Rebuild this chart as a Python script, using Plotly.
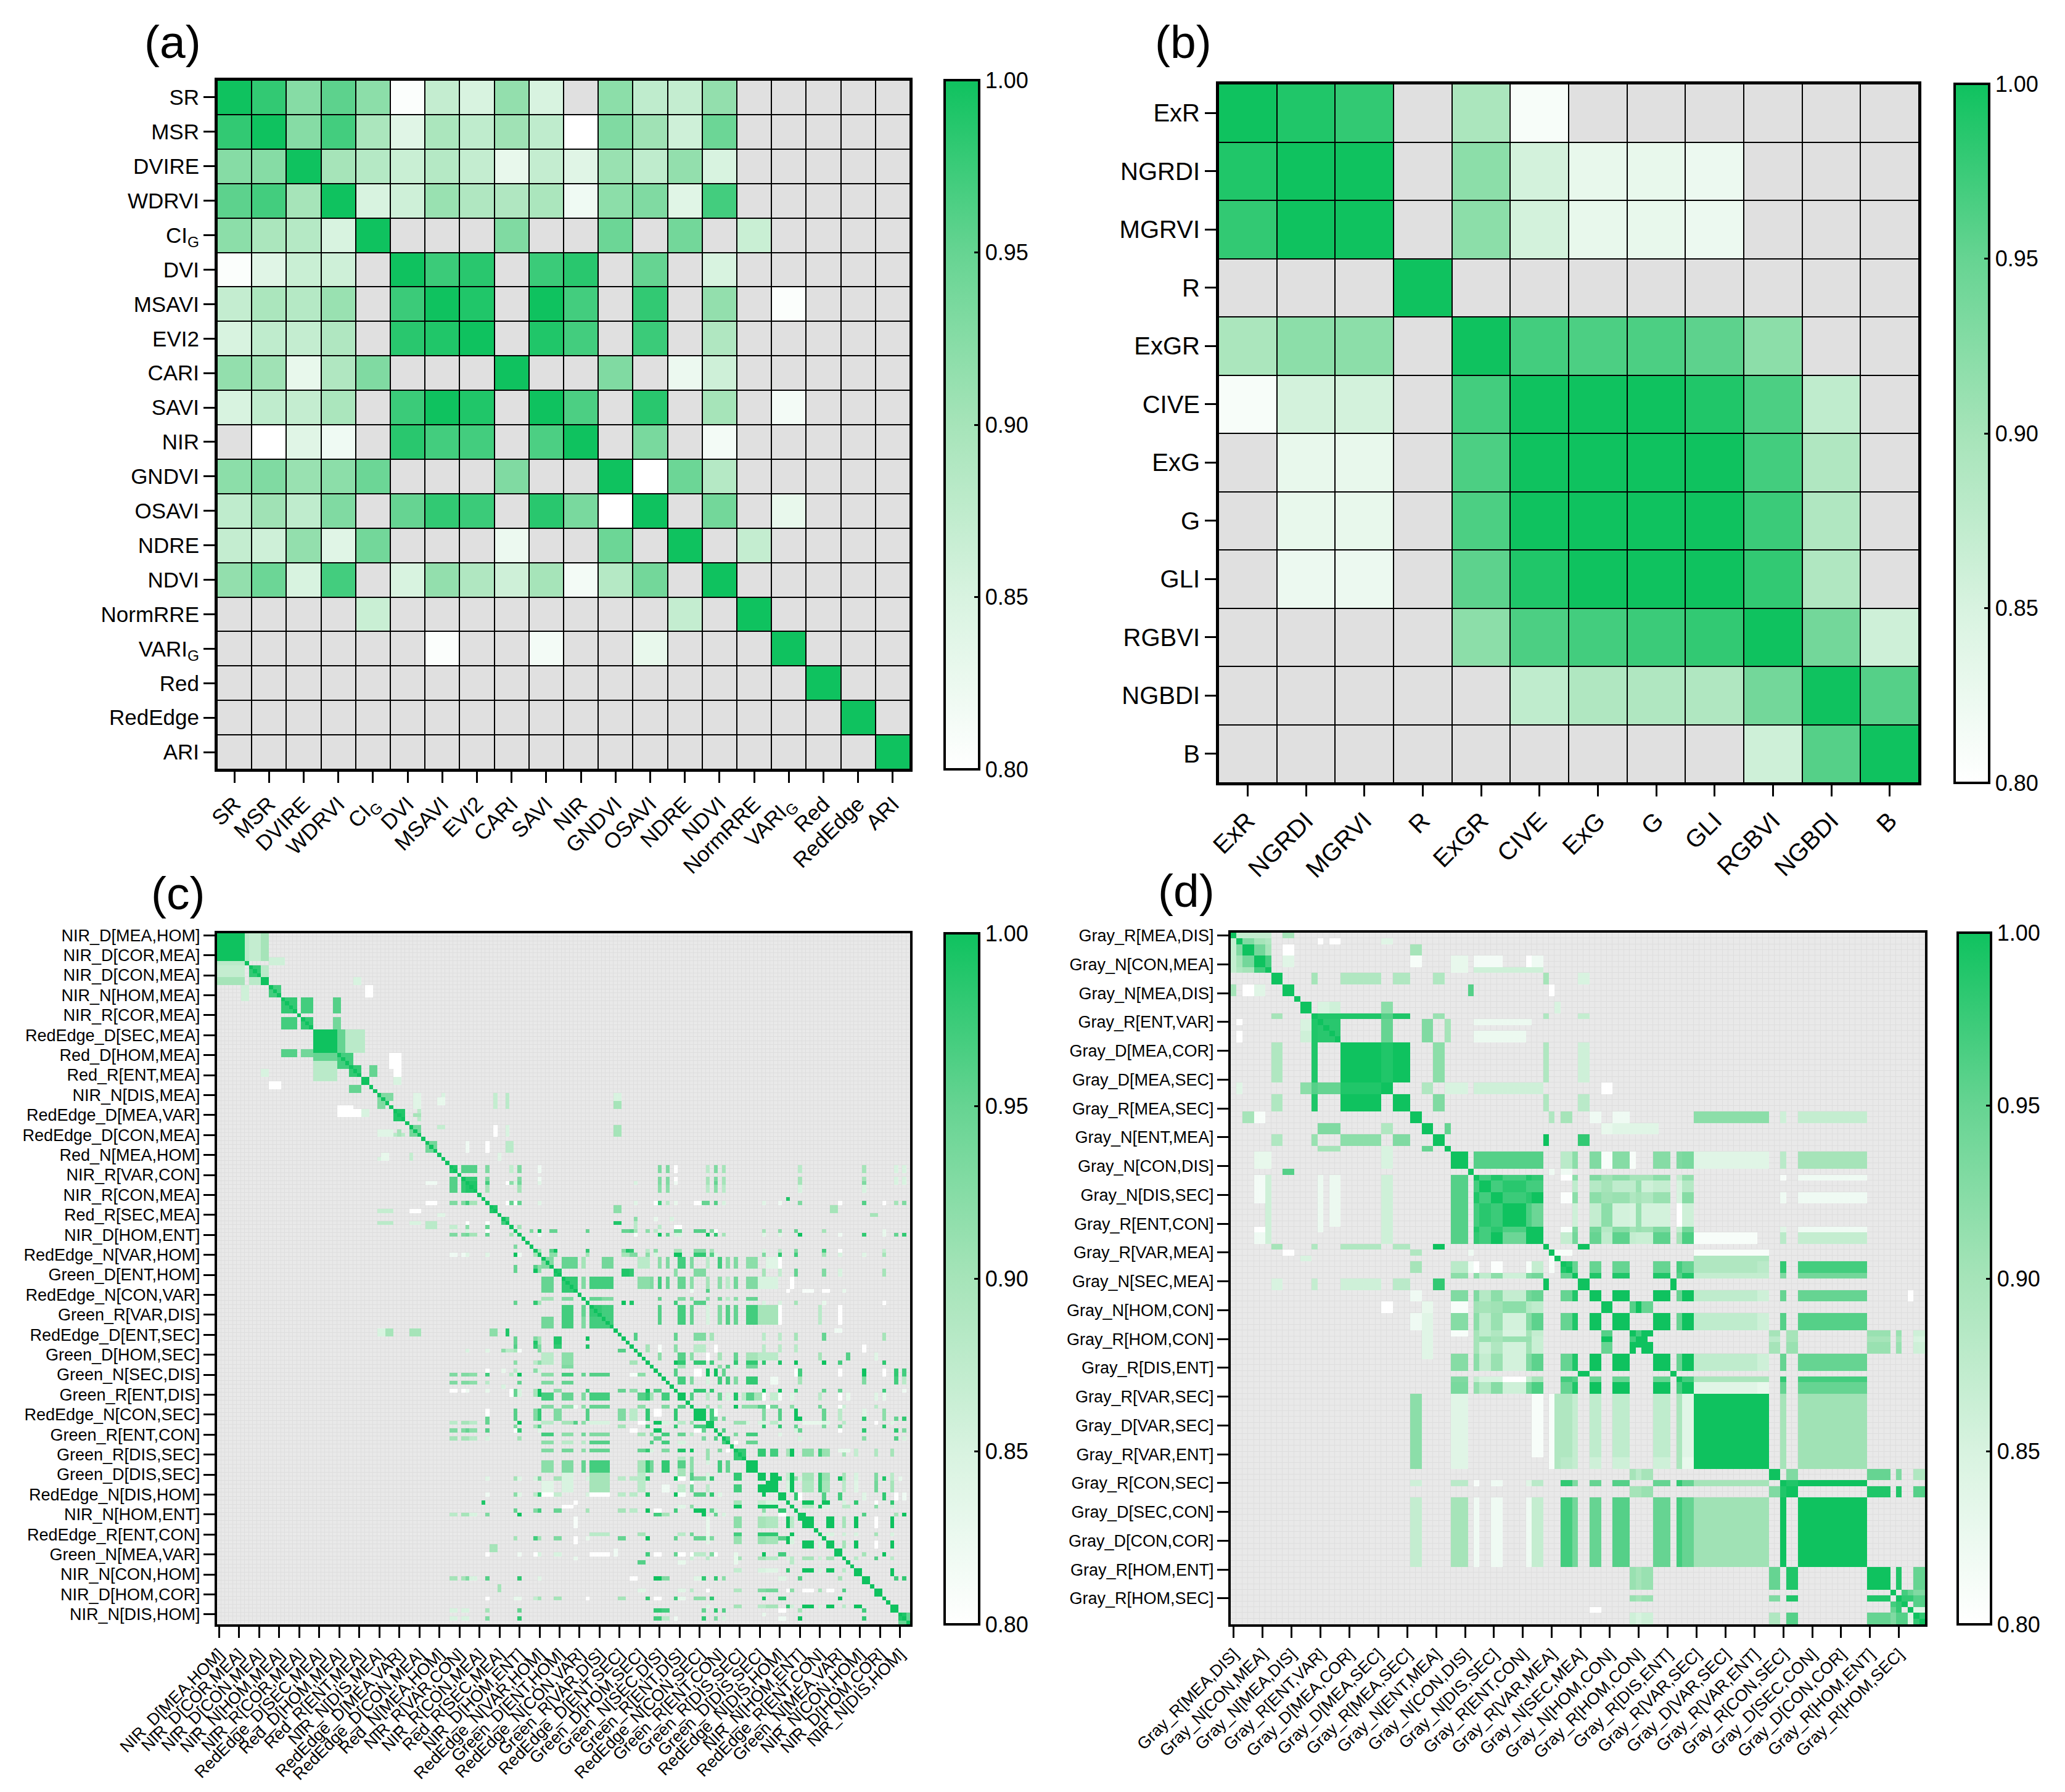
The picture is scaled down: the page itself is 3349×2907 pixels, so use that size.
import plotly.graph_objects as go

W, H = 3349, 2907
N = None

a_labels = ["SR", "MSR", "DVIRE", "WDRVI", "CI<sub>G</sub>", "DVI", "MSAVI", "EVI2", "CARI", "SAVI", "NIR", "GNDVI",
            "OSAVI", "NDRE", "NDVI", "NormRRE", "VARI<sub>G</sub>", "Red", "RedEdge", "ARI"]
a_values = [
    [1, .98, .925, .955, .92, .805, .87, .85, .915, .85, N, .92, .875, .87, .915, N, N, N, N, N],
    [.98, 1, .925, .97, .895, .84, .895, .875, .905, .875, .80, .93, .905, .86, .945, N, N, N, N, N],
    [.925, .925, 1, .90, .885, .865, .885, .87, .83, .87, .84, .91, .875, .915, .85, N, N, N, N, N],
    [.955, .97, .90, 1, .85, .86, .91, .89, .89, .895, .82, .92, .93, .84, .97, N, N, N, N, N],
    [.92, .895, .885, .85, 1, N, N, N, .93, N, N, .945, N, .94, N, .865, N, N, N, N],
    [.805, .84, .865, .86, N, 1, .975, .985, N, .975, .985, N, .95, N, .85, N, N, N, N, N],
    [.87, .895, .885, .91, N, .975, 1, .99, N, 1, .97, N, .98, N, .915, N, .805, N, N, N],
    [.85, .875, .87, .89, N, .985, .99, 1, N, .99, .97, N, .975, N, .89, N, N, N, N, N],
    [.915, .905, .83, .89, .93, N, N, N, 1, N, N, .93, N, .825, .86, N, N, N, N, N],
    [.85, .875, .87, .895, N, .975, 1, .99, N, 1, .965, N, .985, N, .90, N, .815, N, N, N],
    [N, .80, .84, .82, N, .985, .97, .97, N, .965, 1, N, .935, N, .815, N, N, N, N, N],
    [.92, .93, .91, .92, .945, N, N, N, .93, N, N, 1, .80, .945, .885, N, N, N, N, N],
    [.875, .905, .875, .93, N, .95, .98, .975, N, .985, .935, .80, 1, N, .94, N, .83, N, N, N],
    [.87, .86, .915, .84, .94, N, N, N, .825, N, N, .945, N, 1, N, .87, N, N, N, N],
    [.915, .945, .85, .97, N, .85, .915, .89, .86, .90, .815, .885, .94, N, 1, N, N, N, N, N],
    [N, N, N, N, .865, N, N, N, N, N, N, N, N, .87, N, 1, N, N, N, N],
    [N, N, N, N, N, N, .805, N, N, .815, N, N, .83, N, N, N, 1, N, N, N],
    [N, N, N, N, N, N, N, N, N, N, N, N, N, N, N, N, N, 1, N, N],
    [N, N, N, N, N, N, N, N, N, N, N, N, N, N, N, N, N, N, 1, N],
    [N, N, N, N, N, N, N, N, N, N, N, N, N, N, N, N, N, N, N, 1],
]

b_labels = ["ExR", "NGRDI", "MGRVI", "R", "ExGR", "CIVE", "ExG", "G", "GLI", "RGBVI", "NGBDI", "B"]
b_values = [
    [1, .99, .98, N, .895, .81, N, N, N, N, N, N],
    [.99, 1, 1, N, .92, .855, .83, .83, .825, N, N, N],
    [.98, 1, 1, N, .92, .855, .83, .83, .825, N, N, N],
    [N, N, N, 1, N, N, N, N, N, N, N, N],
    [.895, .92, .92, N, 1, .97, .965, .965, .955, .92, N, N],
    [.81, .855, .855, N, .97, 1, 1, 1, .99, .965, .875, N],
    [N, .83, .83, N, .965, 1, 1, 1, 1, .97, .89, N],
    [N, .83, .83, N, .965, 1, 1, 1, 1, .975, .89, N],
    [N, .825, .825, N, .955, .99, 1, 1, 1, .98, .89, N],
    [N, N, N, N, .92, .965, .97, .975, .98, 1, .94, .86],
    [N, N, N, N, N, .875, .89, .89, .89, .94, 1, .96],
    [N, N, N, N, N, N, N, N, N, .86, .96, 1],
]

c_labels = ["NIR_D[MEA,HOM]", "NIR_D[COR,MEA]", "NIR_D[CON,MEA]", "NIR_N[HOM,MEA]", "NIR_R[COR,MEA]",
            "RedEdge_D[SEC,MEA]", "Red_D[HOM,MEA]", "Red_R[ENT,MEA]", "NIR_N[DIS,MEA]", "RedEdge_D[MEA,VAR]",
            "RedEdge_D[CON,MEA]", "Red_N[MEA,HOM]", "NIR_R[VAR,CON]", "NIR_R[CON,MEA]", "Red_R[SEC,MEA]",
            "NIR_D[HOM,ENT]", "RedEdge_N[VAR,HOM]", "Green_D[ENT,HOM]", "RedEdge_N[CON,VAR]", "Green_R[VAR,DIS]",
            "RedEdge_D[ENT,SEC]", "Green_D[HOM,SEC]", "Green_N[SEC,DIS]", "Green_R[ENT,DIS]", "RedEdge_N[CON,SEC]",
            "Green_R[ENT,CON]", "Green_R[DIS,SEC]", "Green_D[DIS,SEC]", "RedEdge_N[DIS,HOM]", "NIR_N[HOM,ENT]",
            "RedEdge_R[ENT,CON]", "Green_N[MEA,VAR]", "NIR_N[CON,HOM]", "NIR_D[HOM,COR]", "NIR_N[DIS,HOM]"]
c_size = 173
c_cells = [
    (0, 6, [(0, 6, 1), (7, 7, .88), (8, 10, .87), (11, 12, .90)]),
    (6, 7, [(13, 16, .86)]),
    (8, 10, [(8, 10, .98), (11, 12, .88)]),
    (11, 12, [(11, 12, 1), (34, 35, .85)]),
    (13, 15, [(13, 15, .97), (37, 38, .80)]),
    (16, 19, [(16, 19, .98), (21, 23, .97), (29, 30, .96)]),
    (21, 23, [(21, 23, .98), (29, 30, .94)]),
    (24, 29, [(24, 29, 1), (30, 31, .95), (32, 36, .88)]),
    (30, 33, [(30, 32, .97), (43, 45, .80)]),
    (33, 35, [(33, 35, .98), (38, 39, .95), (44, 45, .80)]),
    (36, 37, [(36, 37, 1), (44, 45, .85)]),
    (40, 41, [(41, 43, .93), (50, 50, .85), (56, 56, .85), (69, 69, .87), (72, 72, .88), (99, 100, .85)]),
    (42, 43, [(69, 69, .87), (72, 72, .88), (99, 100, .90)]),
    (44, 46, [(44, 46, .99), (50, 50, .88)]),
    (48, 50, [(48, 50, .94), (69, 69, .80), (72, 72, .85), (99, 100, .90)]),
    (49, 50, [(40, 43, .84), (45, 45, .90)]),
    (52, 54, [(52, 54, .94), (62, 62, .82), (67, 67, .80), (72, 73, .88)]),
    (55, 56, [(48, 48, .87), (70, 70, .84), (41, 42, .83)]),
    (58, 59, [(58, 59, .99), (61, 64, .96), (67, 67, .93), (73, 73, .87), (75, 75, .93), (80, 80, .82), (110, 110, .93),
              (112, 112, .93), (114, 114, .80), (122, 122, .88), (124, 124, .93), (126, 126, .90), (145, 145, .88),
              (161, 161, .90), (169, 169, .85), (171, 171, .85)]),
    (61, 61, [(61, 64, .98), (67, 67, .93), (75, 75, .93), (80, 80, .82), (110, 110, .93), (112, 112, .93), (114, 114, .80),
              (122, 122, .90), (124, 124, .93), (126, 126, .90), (145, 145, .90), (161, 161, .90), (169, 169, .85), (171, 171, .85)]),
    (62, 62, [(62, 64, .99), (67, 67, .97), (72, 72, .80), (73, 73, .92), (74, 74, .85), (75, 75, .94), (80, 80, .84), (104, 104, .85),
              (110, 110, .93), (112, 112, .93), (114, 114, .82), (122, 122, .90), (124, 124, .95), (126, 126, .90), (145, 145, .90),
              (161, 161, .93), (169, 169, .85), (171, 171, .85)]),
    (63, 64, [(63, 64, .99), (67, 67, .90), (75, 75, .90), (110, 110, .92), (112, 112, .92), (122, 122, .88), (124, 124, .92), (126, 126, .88),
              (145, 145, .85), (161, 161, .85)]),
    (67, 67, [(72, 72, .80), (73, 73, .95), (74, 74, .80), (75, 75, .95), (80, 80, .84), (104, 104, .84), (109, 109, .80), (110, 110, .97),
              (112, 112, .88), (114, 114, .83), (119, 120, .80), (121, 122, .95), (124, 124, .96), (126, 126, .85), (136, 136, .84), (140, 140, .82),
              (145, 145, .93), (155, 155, .80), (161, 161, .96), (166, 166, .80), (169, 169, .90), (171, 171, .93)]),
    (66, 66, [(142, 142, .99)]),
    (68, 69, [(68, 69, .99), (99, 100, .92), (153, 154, .90)]),
    (70, 70, [(163, 164, .90)]),
    (71, 71, [(71, 72, .97), (104, 104, .92), (109, 109, .83), (113, 113, .85)]),
    (72, 72, [(99, 100, .99), (104, 104, .88)]),
    (73, 73, [(75, 75, .90), (104, 104, .88), (110, 110, .88), (114, 115, .80)]),
    (74, 74, [(78, 78, .93), (80, 80, 1), (83, 84, .95), (92, 92, .95), (101, 102, .95), (103, 103, .96), (104, 104, .90), (107, 107, .92),
              (109, 109, .88), (114, 115, .95), (119, 121, .96), (123, 123, .93), (124, 124, .80), (136, 136, .90), (140, 140, .92), (144, 144, .95),
              (151, 151, .90), (166, 166, .83)]),
    (75, 75, [(80, 80, .82), (104, 104, .81), (110, 110, 1), (112, 112, .95), (114, 115, .85), (122, 122, 1), (124, 124, .98), (126, 126, .90),
              (136, 136, .84), (140, 140, .84), (145, 145, 1), (155, 155, .82), (161, 161, .98), (166, 166, .83), (169, 169, .95), (171, 171, .98)]),
    (79, 79, [(80, 80, .90), (83, 83, .96), (84, 84, 1), (92, 92, .98), (101, 101, .93), (102, 102, .99), (103, 103, .98), (107, 107, .88),
              (109, 109, .92), (114, 115, .90), (119, 121, .93), (123, 123, .90), (136, 136, .85), (140, 140, .88), (144, 144, .93), (151, 151, .97),
              (155, 155, .80), (166, 166, .87)]),
    (80, 80, [(80, 80, 1), (83, 84, .92), (92, 92, .90), (101, 102, .90), (103, 104, .93), (107, 107, .92), (109, 109, .85), (114, 115, 1),
              (119, 121, .98), (123, 123, .96), (124, 124, .84), (136, 136, .93), (140, 140, .98), (144, 144, .97), (151, 151, .90), (155, 155, .85),
              (161, 161, .84), (166, 166, .90)]),
    (81, 83, [(81, 83, .93), (86, 89, .95), (91, 91, .90), (96, 98, .94), (105, 107, .88), (110, 110, .92), (112, 112, .93), (115, 116, .97),
              (118, 118, .93), (122, 122, .88), (125, 125, .97), (127, 127, .92), (129, 129, .93), (132, 134, .92), (137, 139, .84), (140, 140, .80)]),
    (84, 85, [(84, 85, .99), (101, 102, .99), (103, 103, .98), (114, 114, .92), (119, 121, .93), (136, 136, .90), (140, 140, .87), (144, 144, .95),
              (151, 151, .93), (155, 155, .85), (166, 166, .90)]),
    (86, 88, [(86, 89, .98), (91, 91, .93), (93, 95, .97), (96, 98, .97), (105, 107, .92), (108, 108, .93), (110, 110, .97), (112, 112, .95),
              (115, 116, .95), (118, 118, .92), (122, 122, .90), (125, 125, .92), (127, 127, .88), (129, 129, .94), (132, 134, .93), (135, 139, .85),
              (143, 143, .80)]),
    (89, 89, [(118, 118, .82), (122, 122, .96), (142, 142, .80), (146, 148, .81), (151, 152, .80), (156, 156, .83)]),
    (91, 91, [(93, 95, .95), (96, 98, .93), (110, 110, .95), (115, 116, .93), (118, 118, .92), (122, 122, .92), (125, 125, .94), (127, 127, .88),
              (129, 129, .92), (132, 134, .95)]),
    (92, 92, [(101, 101, 1), (103, 103, .99), (114, 114, .97), (119, 121, .96), (136, 136, .85), (140, 140, .85), (144, 144, .90), (151, 151, .83),
              (166, 166, .80)]),
    (93, 97, [(93, 94, .98), (96, 98, .97), (110, 110, .96), (115, 116, .97), (118, 118, .95), (122, 122, .85), (125, 125, .93), (127, 127, .96),
              (129, 129, .95), (132, 134, .97), (135, 139, .90), (140, 140, .80), (150, 150, .88), (155, 155, .80)]),
    (99, 99, [(154, 155, .82)]),
    (100, 101, [(104, 104, .96), (114, 114, .95), (119, 121, .93), (123, 123, .90), (136, 136, .88), (140, 140, .88), (144, 144, .90), (151, 151, .95),
                (166, 166, .90)]),
    (103, 104, [(107, 107, .90), (110, 110, .81), (114, 114, .92), (119, 121, .88), (124, 124, .80), (136, 136, .88), (140, 140, .88), (144, 144, .88),
                (161, 161, .80)]),
    (105, 106, [(110, 110, .92), (115, 116, .96), (118, 118, .92), (122, 122, .80), (125, 125, .90), (129, 129, .95), (132, 134, .90), (135, 139, .88),
                (150, 150, .90), (157, 157, .96), (164, 164, .84)]),
    (107, 107, [(114, 114, 1), (115, 116, .98), (119, 121, .98), (123, 123, .97), (129, 129, .98), (132, 134, .98), (136, 136, .98), (140, 140, .99),
                (144, 144, 1), (151, 151, 1), (155, 155, .97), (166, 166, .98)]),
    (108, 108, [(115, 116, .90), (125, 125, .92), (127, 127, .96), (129, 129, .85), (132, 134, .94)]),
    (109, 110, [(114, 114, .96), (119, 120, .80), (122, 122, 1), (124, 124, 1), (126, 126, .95), (144, 144, .80), (145, 145, .97), (155, 155, .80),
                (161, 161, 1), (166, 166, .80), (169, 169, .98), (171, 171, .97)]),
    (111, 112, [(115, 116, .97), (118, 118, .93), (122, 122, .85), (125, 125, .97), (127, 127, .97), (129, 129, .93), (132, 134, .98), (138, 139, .82),
                (145, 145, .90), (161, 161, .93), (169, 169, .97), (171, 171, .88)]),
    (114, 114, [(119, 121, .98), (123, 123, .98), (136, 136, 1), (140, 140, 1), (144, 144, .97), (151, 151, .95), (155, 155, .95), (166, 166, .97),
                (171, 171, .82)]),
    (115, 116, [(115, 116, 1), (118, 118, .96), (122, 122, .88), (125, 125, .95), (127, 127, .85), (129, 129, .99), (131, 131, .88), (132, 133, .96),
                (134, 135, .90), (136, 136, .80), (138, 139, .87), (140, 140, .81), (143, 143, .84), (150, 150, .88), (155, 155, .80), (157, 157, .83),
                (164, 164, .84), (166, 166, .83)]),
    (118, 118, [(122, 122, .91), (125, 125, .88), (129, 129, 1), (131, 134, .92), (135, 136, .96), (137, 137, .80), (138, 139, .94), (143, 143, .92),
                (150, 150, .94), (155, 155, .80), (156, 156, .86), (164, 164, .88)]),
    (119, 121, [(119, 121, 1), (123, 123, .97), (124, 124, .80), (136, 136, .93), (140, 140, .96), (144, 144, 1), (151, 151, .95), (155, 155, .88),
                (161, 161, .84), (166, 166, .92)]),
    (121, 121, [(124, 124, .95), (126, 126, .93), (145, 145, 1), (161, 161, .98), (169, 169, .95), (171, 171, .98)]),
    (122, 122, [(122, 123, 1), (129, 131, .91), (132, 132, .85), (135, 136, .85), (138, 139, .88), (146, 150, .83), (151, 152, .84), (156, 156, .88),
                (164, 164, .80), (168, 168, .84)]),
    (123, 123, [(136, 136, .98), (140, 140, .98), (144, 144, .95), (151, 151, .93), (155, 155, .93), (166, 166, .98)]),
    (124, 124, [(124, 124, 1), (126, 126, .96), (144, 144, .85), (145, 145, .95), (155, 155, .80), (161, 161, .98), (169, 169, .98), (171, 171, .93)]),
    (125, 125, [(129, 129, .93), (132, 134, .97), (140, 140, .84)]),
    (126, 126, [(127, 127, .97), (145, 145, .85), (161, 161, .92), (169, 169, .96), (171, 171, .85)]),
    (127, 127, [(129, 129, .80), (132, 134, .95)]),
    (129, 130, [(129, 131, .98), (135, 136, .98), (138, 139, .97), (142, 142, .90), (143, 143, 1), (146, 148, .92), (150, 150, .97), (151, 152, .91),
                (156, 156, .90), (159, 159, .87), (164, 164, .89), (168, 168, .90)]),
    (129, 129, [(155, 157, .83)]),
    (132, 134, [(132, 134, 1)]),
    (135, 136, [(135, 136, 1), (138, 139, 1), (142, 142, .87), (143, 143, 1), (146, 148, .90), (150, 150, .98), (151, 152, .91), (156, 156, .90),
                (159, 159, .85), (164, 164, .93), (168, 168, .88)]),
    (136, 136, [(140, 140, 1), (144, 144, .92), (145, 145, .85), (155, 155, 1), (166, 166, .99), (170, 170, .83)]),
    (137, 139, [(138, 139, 1), (142, 142, .85), (143, 143, 1), (146, 148, .89), (150, 150, .98), (151, 152, .90), (156, 156, .88), (159, 159, .84),
                (164, 164, .94), (168, 168, .90)]),
    (140, 141, [(140, 141, 1), (144, 144, .98), (145, 145, .80), (151, 151, .96), (155, 155, .97), (161, 161, .84), (166, 166, .98), (169, 169, .80),
                (171, 171, .82)]),
    (142, 142, [(146, 148, 1), (151, 152, 1), (156, 156, .85), (159, 159, .98), (164, 164, .80), (168, 168, .98)]),
    (143, 143, [(146, 148, .88), (150, 150, 1), (151, 152, .85), (156, 157, .88), (164, 164, .92), (168, 168, .86)]),
    (145, 145, [(145, 146, 1), (161, 161, .96), (169, 169, .90), (171, 171, 1)]),
    (146, 148, [(146, 148, 1), (152, 153, 1), (156, 156, .90), (159, 159, 1), (164, 164, .80), (168, 168, 1)]),
    (150, 150, [(152, 153, .85), (156, 156, .86), (159, 159, .85), (164, 164, .90), (168, 168, .85)]),
    (152, 153, [(152, 153, 1), (156, 156, .90), (159, 159, 1), (164, 164, .80), (168, 168, 1)]),
    (154, 154, [(154, 155, 1)]),
    (155, 155, [(161, 161, .90), (166, 166, 1)]),
    (156, 156, [(159, 159, .88), (164, 164, .96), (168, 168, .88)]),
    (159, 160, [(159, 160, 1), (168, 168, 1)]),
    (161, 161, [(161, 162, 1), (169, 169, .97), (171, 171, .98)]),
    (164, 165, [(164, 165, 1)]),
    (168, 168, [(168, 169, 1)]),
    (170, 171, [(170, 171, .99), (172, 172, .95)]),
]

d_labels = ["Gray_R[MEA,DIS]", "Gray_N[CON,MEA]", "Gray_N[MEA,DIS]", "Gray_R[ENT,VAR]", "Gray_D[MEA,COR]", "Gray_D[MEA,SEC]",
            "Gray_R[MEA,SEC]", "Gray_N[ENT,MEA]", "Gray_N[CON,DIS]", "Gray_N[DIS,SEC]", "Gray_R[ENT,CON]", "Gray_R[VAR,MEA]",
            "Gray_N[SEC,MEA]", "Gray_N[HOM,CON]", "Gray_R[HOM,CON]", "Gray_R[DIS,ENT]", "Gray_R[VAR,SEC]", "Gray_D[VAR,SEC]",
            "Gray_R[VAR,ENT]", "Gray_R[CON,SEC]", "Gray_D[SEC,CON]", "Gray_D[CON,COR]", "Gray_R[HOM,ENT]", "Gray_R[HOM,SEC]"]
d_size = 120
d_cells = [
    (0, 0, [(1, 6, .87), (9, 10, .90)]),
    (1, 1, [(2, 3, .93), (4, 5, .90), (6, 6, .89), (15, 15, .80), (17, 18, .80), (26, 27, .84)]),
    (2, 3, [(2, 3, 1), (4, 5, .94), (6, 6, .90), (9, 10, .80), (31, 32, .90)]),
    (4, 5, [(4, 5, 1), (6, 6, .97), (9, 10, .84), (31, 32, .81), (38, 40, .83), (42, 46, .815), (51, 51, .80), (52, 53, .82)]),
    (6, 6, [(38, 40, .83), (42, 53, .86)]),
    (7, 8, [(7, 8, 1), (14, 14, .90), (19, 25, .89), (28, 30, .89), (35, 36, .89), (54, 54, .90), (60, 61, .85)]),
    (9, 10, [(9, 10, 1), (41, 41, .96), (55, 55, .80)]),
    (12, 13, [(12, 13, 1), (15, 16, .85), (17, 18, .86), (26, 27, .92), (56, 56, .85)]),
    (14, 14, [(15, 18, .99), (19, 25, .99), (26, 27, .96), (28, 30, .99), (35, 36, .91), (54, 54, .89), (60, 61, .87)]),
    (15, 18, [(15, 18, .985), (26, 27, .95), (33, 34, .93), (37, 37, .90)]),
    (15, 15, [(42, 51, .825)]),
    (17, 18, [(42, 50, .825)]),
    (19, 25, [(19, 25, 1), (26, 27, .99), (28, 30, 1), (35, 36, .92), (54, 54, .89), (60, 61, .86)]),
    (26, 27, [(26, 27, 1), (33, 34, .89), (37, 37, .85), (38, 40, .85), (42, 53, .86), (64, 65, .80)]),
    (28, 30, [(28, 30, 1), (35, 36, .93), (54, 54, .89), (60, 61, .88)]),
    (31, 32, [(31, 32, 1), (55, 55, .89), (57, 58, .90), (62, 63, .82), (66, 68, .82), (80, 92, .92), (95, 95, .86), (98, 109, .87)]),
    (33, 34, [(33, 34, 1), (37, 37, .95), (64, 65, .83), (66, 73, .84)]),
    (35, 36, [(35, 36, 1), (54, 54, 1), (60, 61, .98)]),
    (38, 40, [(38, 40, 1), (42, 53, .96), (57, 58, .88), (59, 59, .92), (62, 63, .93), (64, 65, .81), (66, 68, .925), (69, 69, .81), (73, 75, .925),
              (77, 77, .93), (78, 79, .935), (80, 92, .84), (95, 95, .88), (98, 109, .90)]),
    (41, 41, [(55, 55, .82), (57, 58, .82)]),
    (42, 42, [(42, 42, .98), (43, 44, .97), (45, 46, .99), (47, 50, .97), (51, 51, .99), (52, 53, .98), (95, 95, .81), (98, 109, .82)]),
    (43, 44, [(43, 44, 1), (45, 46, .97), (47, 50, .985), (51, 51, .97), (52, 53, .97)]),
    (45, 46, [(45, 46, 1), (47, 50, .975), (51, 51, .985), (52, 53, 1)]),
    (47, 50, [(47, 50, 1), (51, 51, .965), (52, 53, .945)]),
    (51, 53, [(51, 53, 1)]),
    (42, 42, [(57, 58, .80), (59, 59, .92), (62, 63, .93), (64, 65, .905), (66, 68, .92), (69, 69, .90), (70, 70, .90), (71, 72, .90), (73, 75, .92),
              (77, 77, .87), (78, 79, .915)]),
    (43, 44, [(59, 59, .875), (62, 63, .885), (64, 65, .90), (66, 68, .875), (69, 69, .875), (70, 70, .91), (71, 72, .86), (73, 75, .87), (77, 77, .85),
              (78, 79, .885)]),
    (45, 46, [(57, 58, .805), (59, 59, .92), (62, 63, .92), (64, 65, .905), (66, 68, .91), (69, 69, .89), (70, 70, .90), (71, 72, .89), (73, 75, .91),
              (77, 77, .85), (78, 79, .925), (95, 95, .82), (98, 109, .82)]),
    (47, 50, [(59, 59, .86), (62, 63, .87), (64, 65, .92), (66, 68, .855), (69, 69, .85), (70, 70, .91), (71, 72, .855), (73, 75, .855), (77, 77, .80),
              (78, 79, .86)]),
    (51, 51, [(57, 58, .81), (59, 59, .93), (62, 63, .94), (64, 65, .885), (66, 68, .925), (69, 69, .90), (70, 70, .91), (71, 72, .905), (73, 75, .93),
              (77, 77, .87), (78, 79, .94), (95, 95, .84), (98, 109, .82)]),
    (52, 53, [(57, 58, .87), (59, 59, .94), (62, 63, .95), (64, 65, .875), (66, 68, .955), (69, 69, .87), (70, 70, .865), (71, 72, .865), (73, 75, .955),
              (77, 77, .90), (78, 79, .965), (80, 90, .81), (95, 95, .88), (98, 109, .87)]),
    (54, 54, [(60, 61, 1)]),
    (55, 55, [(56, 58, .81), (80, 92, .81)]),
    (56, 56, [(80, 92, .89)]),
    (57, 58, [(57, 58, .99), (59, 59, .95), (62, 63, .95), (66, 68, .95), (73, 75, .95), (77, 77, .97), (78, 79, .95), (80, 90, .89), (91, 92, .88),
              (95, 95, .98), (98, 109, .97)]),
    (59, 59, [(62, 63, .99), (66, 68, .99), (73, 75, .99), (77, 77, .96), (78, 79, .99), (80, 92, .87), (95, 95, .93), (98, 109, .94)]),
    (60, 61, [(60, 61, 1), (76, 76, 1)]),
    (62, 63, [(62, 63, 1), (66, 68, 1), (73, 75, 1), (77, 77, .95), (78, 79, 1), (80, 90, .875), (91, 92, .86), (95, 95, .95), (98, 109, .95), (117, 117, .80)]),
    (64, 65, [(64, 65, 1), (69, 69, .96), (70, 70, 1), (71, 72, .95)]),
    (66, 68, [(66, 68, 1), (73, 75, 1), (77, 77, .95), (78, 79, 1), (80, 90, .875), (91, 92, .86), (95, 95, .96), (98, 109, .96)]),
    (69, 69, [(70, 70, .97), (71, 72, 1), (93, 94, .90), (96, 97, .90), (110, 113, .91), (115, 115, .91), (118, 119, .86)]),
    (70, 70, [(71, 71, 1), (93, 94, .88), (96, 97, .90), (110, 113, .90), (115, 115, .90), (118, 119, .85)]),
    (71, 72, [(71, 72, 1), (93, 94, .90), (96, 97, .91), (110, 113, .91), (115, 115, .91), (118, 119, .86)]),
    (73, 75, [(73, 75, 1), (77, 77, .95), (78, 79, 1), (80, 90, .875), (91, 92, .86), (95, 95, .95), (98, 109, .95)]),
    (77, 77, [(78, 79, .97), (80, 92, .895), (95, 95, .98), (98, 109, .97)]),
    (78, 79, [(78, 79, 1), (80, 90, .84), (91, 92, .83), (95, 95, .95), (98, 109, .95)]),
    (80, 92, [(80, 92, 1), (95, 95, .90), (98, 109, .905)]),
    (93, 94, [(93, 94, 1), (96, 97, .93), (110, 113, .95), (115, 115, .93), (118, 119, .89)]),
    (95, 95, [(96, 97, .99), (98, 109, 1)]),
    (96, 97, [(96, 97, 1), (110, 113, .99), (115, 115, .99), (118, 119, .96)]),
    (98, 109, [(98, 109, 1)]),
    (110, 113, [(110, 113, 1), (115, 115, .99), (118, 119, .95)]),
    (114, 114, [(116, 116, .97), (117, 117, .95), (118, 119, .93)]),
    (115, 115, [(116, 117, .98), (118, 119, .96)]),
    (116, 116, [(118, 119, .96)]),
    (117, 117, [(118, 119, .84)]),
    (118, 119, [(118, 119, .98)]),
]

GREEN_SCALE = [[0, "#FFFFFF"], [.25, "#D8F3E0"], [.5, "#A6E4B9"], [.75, "#66D492"], [1, "#0FC25F"]]
TICK_VALUES = [.80, .85, .90, .95, 1.00]


def expand(size, cells):
    z = [[None] * size for _ in range(size)]
    for r0, r1, spans in cells:
        for c0, c1, value in spans:
            for r in range(r0, r1 + 1):
                for c in range(c0, c1 + 1):
                    z[r][c] = value
                    z[c][r] = value
    for i in range(size):
        z[i][i] = 1
    return z


fig = go.Figure()
panels = [
    dict(box=(352, 130, 1476, 1248), bar=(1532, 56), z=a_values, labels=a_labels, step=1, font=35, gap=2, letter=("(a)", 232, 68)),
    dict(box=(1976, 136, 3112, 1270), bar=(3170, 56), z=b_values, labels=b_labels, step=1, font=40, gap=2, letter=("(b)", 1871, 68)),
    dict(box=(352, 1514, 1476, 2635), bar=(1532, 56), z=expand(c_size, c_cells), labels=c_labels, step=5, font=27, gap=0, letter=("(c)", 243, 1449)),
    dict(box=(1996, 1513, 3122, 2635), bar=(3175, 54), z=expand(d_size, d_cells), labels=d_labels, step=5, font=27, gap=0, letter=("(d)", 1876, 1445)),
]

for i, p in enumerate(panels, start=1):
    x0, y0, x1, y1 = p["box"]
    n = len(p["z"])
    xa, ya = f"x{'' if i == 1 else i}", f"y{'' if i == 1 else i}"
    every = list(range(n))
    if p["gap"] == 0:
        fig.add_trace(go.Heatmap(x=every, y=every, z=[[1] * n] * n, xaxis=xa, yaxis=ya, showscale=False, hoverinfo="skip",
                                 colorscale=[[0, "#DEDEDE"], [1, "#DEDEDE"]]))
        fig.add_trace(go.Heatmap(x=every, y=every, z=[[1] * n] * n, xaxis=xa, yaxis=ya, showscale=False, hoverinfo="skip",
                                 xgap=1, ygap=1, colorscale=[[0, "#E9E9E9"], [1, "#E9E9E9"]]))
    else:
        fig.add_trace(go.Heatmap(x=every, y=every, z=[[1] * n] * n, xaxis=xa, yaxis=ya, showscale=False, hoverinfo="skip",
                                 xgap=p["gap"], ygap=p["gap"], colorscale=[[0, "#E0E0E0"], [1, "#E0E0E0"]]))
    fig.add_trace(go.Heatmap(
        x=every, y=every, z=p["z"], xaxis=xa, yaxis=ya, zmin=.8, zmax=1, colorscale=GREEN_SCALE,
        xgap=p["gap"], ygap=p["gap"], hoverongaps=False,
        colorbar=dict(x=p["bar"][0] / W, xanchor="left", xpad=0, ypad=0, y=1 - y0 / H, yanchor="top",
                      lenmode="pixels", len=y1 - y0, thicknessmode="pixels", thickness=p["bar"][1],
                      outlinewidth=4, outlinecolor="black", borderwidth=0,
                      tickvals=TICK_VALUES, tickformat=".2f", tickprefix="\u2009", ticks="inside", ticklen=10, tickwidth=3,
                      tickcolor="black", tickfont=dict(family="Liberation Sans", size=36, color="black")),
    ))
    ticks = list(range(0, n, p["step"]))
    common = dict(showgrid=False, zeroline=False, showline=True, mirror=True, linewidth=4, linecolor="black",
                  ticks="outside", ticklen=18, tickwidth=3, tickcolor="black", tickvals=ticks, ticktext=p["labels"],
                  tickfont=dict(family="Liberation Sans", size=p["font"], color="black"))
    fig.update_layout({
        ("xaxis" if i == 1 else f"xaxis{i}"): dict(domain=[x0 / W, x1 / W], range=[-.5, n - .5], anchor=ya, tickangle=-45, **common),
        ("yaxis" if i == 1 else f"yaxis{i}"): dict(domain=[1 - y1 / H, 1 - y0 / H], range=[n - .5, -.5], anchor=xa, **common),
    })
    text, lx, ly = p["letter"]
    fig.add_annotation(text=text, x=lx / W, y=1 - ly / H, xref="paper", yref="paper", xanchor="left", yanchor="middle",
                       showarrow=False, font=dict(family="Liberation Sans", size=75, color="black"))

fig.update_layout(width=W, height=H, margin=dict(l=0, r=0, t=0, b=0, pad=0, autoexpand=False), autosize=False,
                  paper_bgcolor="white", plot_bgcolor="black", showlegend=False)
fig.write_html("out.html", config={"displayModeBar": False}, post_script="document.body.style.margin='0';")
